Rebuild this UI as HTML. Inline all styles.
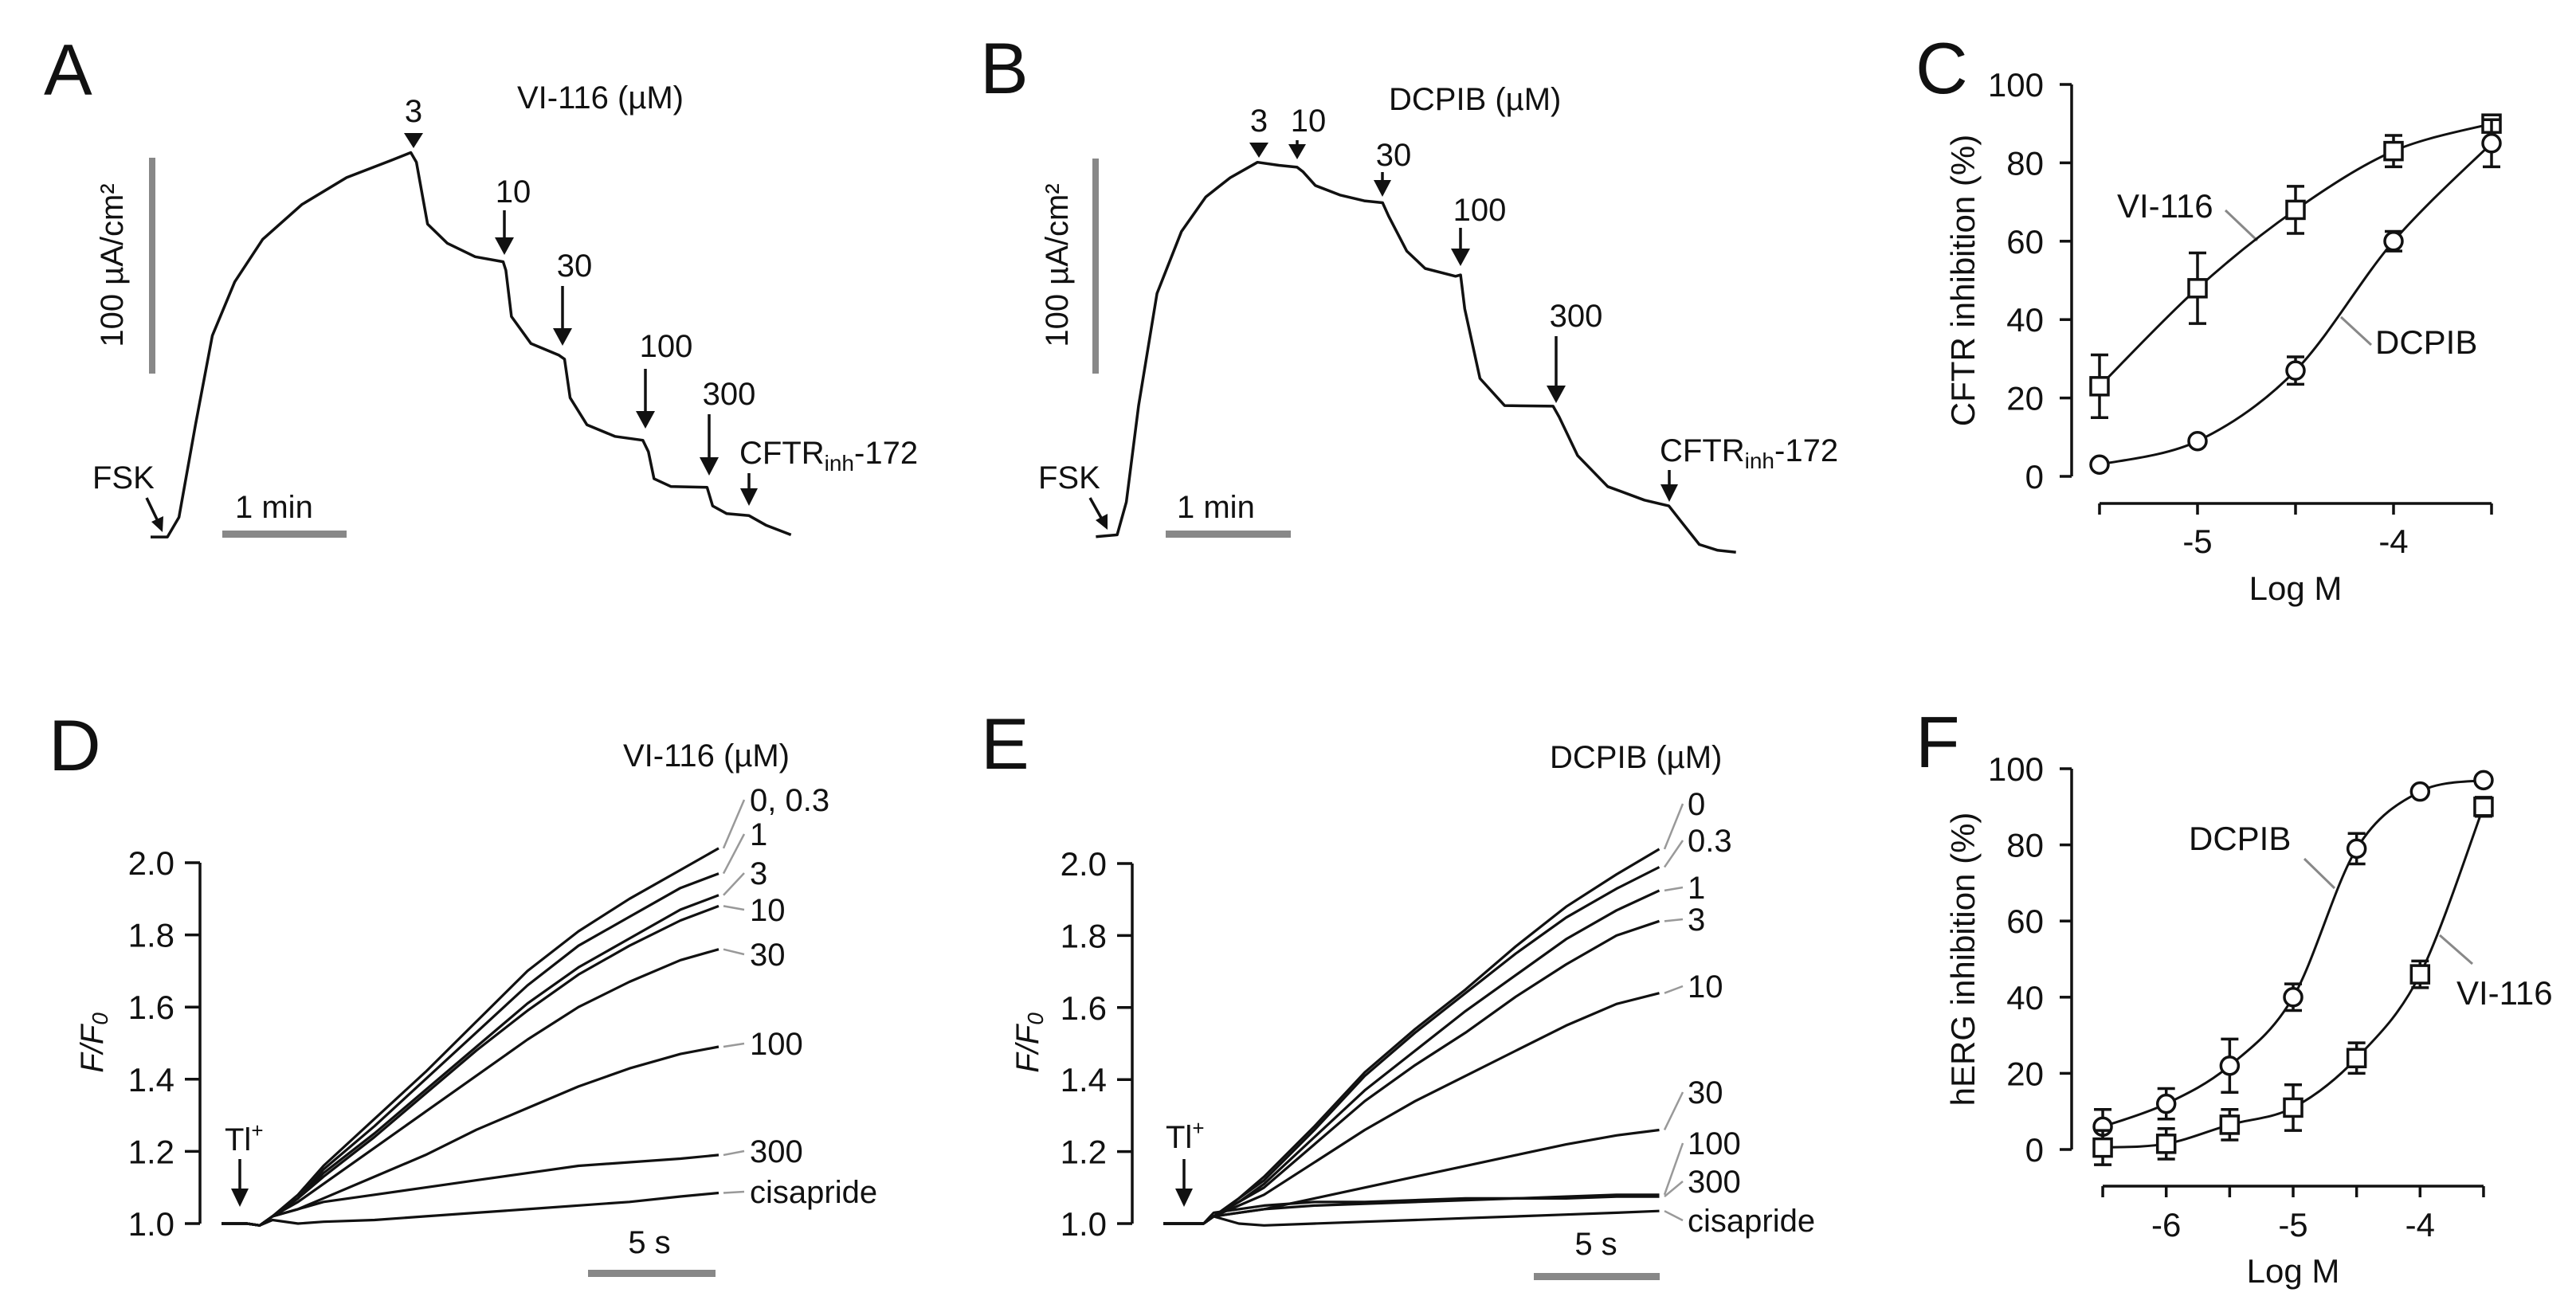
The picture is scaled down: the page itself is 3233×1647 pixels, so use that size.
<!DOCTYPE html>
<html><head><meta charset="utf-8">
<style>
html,body{margin:0;padding:0;background:#fff;}
svg{display:block;font-family:"Liberation Sans",Arial,sans-serif;}
text{fill:#111;}
</style></head>
<body>
<svg id="fig" width="3233" height="1647" viewBox="0 0 3233 1647" xmlns="http://www.w3.org/2000/svg">
<rect x="0" y="0" width="3233" height="1647" fill="#fff"/>

<g id="pA" font-size="40">
  <text x="55" y="119" font-size="91">A</text>
  <text x="649" y="136">VI-116 (µM)</text>
  <rect x="187" y="198" width="8" height="271" fill="#888"/>
  <text transform="translate(154,333) rotate(-90)" text-anchor="middle">100 µA/cm²</text>
  <rect x="279" y="666" width="156" height="9" fill="#888"/>
  <text x="295" y="650">1 min</text>
  <text x="116" y="613">FSK</text>
  <line x1="184" y1="625" x2="197" y2="652" stroke="#111" stroke-width="3.5"/>
  <polygon points="190,655 205,648 204,668" fill="#111"/>
  <text x="519" y="153" text-anchor="middle">3</text>
  <polygon points="507,167 531,167 519,186" fill="#111"/>
  <text x="644" y="254" text-anchor="middle">10</text>
  <line x1="633" y1="264" x2="633" y2="302" stroke="#111" stroke-width="3.5"/>
  <polygon points="621,298 645,298 633,320" fill="#111"/>
  <text x="721" y="347" text-anchor="middle">30</text>
  <line x1="706" y1="359" x2="706" y2="416" stroke="#111" stroke-width="3.5"/>
  <polygon points="694,412 718,412 706,434" fill="#111"/>
  <text x="836" y="448" text-anchor="middle">100</text>
  <line x1="810" y1="463" x2="810" y2="520" stroke="#111" stroke-width="3.5"/>
  <polygon points="798,516 822,516 810,538" fill="#111"/>
  <text x="915" y="508" text-anchor="middle">300</text>
  <line x1="890" y1="520" x2="890" y2="578" stroke="#111" stroke-width="3.5"/>
  <polygon points="878,574 902,574 890,597" fill="#111"/>
  <text x="928" y="582">CFTR<tspan font-size="28" dy="9">inh</tspan><tspan dy="-9">-172</tspan></text>
  <line x1="940" y1="594" x2="940" y2="617" stroke="#111" stroke-width="3.5"/>
  <polygon points="929,613 951,613 940,635" fill="#111"/>
</g>

<g id="pB" font-size="40">
  <text x="1230" y="117" font-size="91">B</text>
  <text x="1743" y="138">DCPIB (µM)</text>
  <rect x="1371" y="199" width="8" height="270" fill="#888"/>
  <text transform="translate(1340,333) rotate(-90)" text-anchor="middle">100 µA/cm²</text>
  <rect x="1463" y="666" width="157" height="9" fill="#888"/>
  <text x="1477" y="650">1 min</text>
  <text x="1303" y="613">FSK</text>
  <line x1="1368" y1="625" x2="1382" y2="650" stroke="#111" stroke-width="3.5"/>
  <polygon points="1375,653 1390,645 1390,665" fill="#111"/>
  <text x="1580" y="165" text-anchor="middle">3</text>
  <polygon points="1568,179 1592,179 1580,198" fill="#111"/>
  <text x="1642" y="165" text-anchor="middle">10</text>
  <line x1="1628" y1="176" x2="1628" y2="185" stroke="#111" stroke-width="3.5"/>
  <polygon points="1617,181 1639,181 1628,200" fill="#111"/>
  <text x="1749" y="208" text-anchor="middle">30</text>
  <line x1="1735" y1="216" x2="1735" y2="230" stroke="#111" stroke-width="3.5"/>
  <polygon points="1724,226 1746,226 1735,247" fill="#111"/>
  <text x="1857" y="277" text-anchor="middle">100</text>
  <line x1="1833" y1="286" x2="1833" y2="316" stroke="#111" stroke-width="3.5"/>
  <polygon points="1821,312 1845,312 1833,334" fill="#111"/>
  <text x="1978" y="410" text-anchor="middle">300</text>
  <line x1="1953" y1="422" x2="1953" y2="488" stroke="#111" stroke-width="3.5"/>
  <polygon points="1941,484 1965,484 1953,506" fill="#111"/>
  <text x="2083" y="579">CFTR<tspan font-size="28" dy="9">inh</tspan><tspan dy="-9">-172</tspan></text>
  <line x1="2095" y1="590" x2="2095" y2="612" stroke="#111" stroke-width="3.5"/>
  <polygon points="2084,608 2106,608 2095,630" fill="#111"/>
</g>

<g id="pC" font-size="42">
  <text x="2404" y="117" font-size="91">C</text>
  <text transform="translate(2478,352) rotate(-90)" text-anchor="middle">CFTR inhibition (%)</text>
  <text x="2881" y="753" text-anchor="middle">Log M</text>
  <text x="2657" y="273">VI-116</text>
  <line x1="2793" y1="264" x2="2833" y2="302" stroke="#888" stroke-width="3"/>
  <text x="2981" y="444">DCPIB</text>
  <line x1="2938" y1="398" x2="2976" y2="433" stroke="#888" stroke-width="3"/>
</g>

<g id="pD" font-size="40">
  <text x="61" y="967" font-size="91">D</text>
  <text x="782" y="962">VI-116 (µM)</text>
  <text transform="translate(129,1309) rotate(-90)" text-anchor="middle" font-style="italic">F/F<tspan font-size="28" dy="6">0</tspan></text>
  <text x="282" y="1444">Tl<tspan font-size="26" dy="-16">+</tspan></text>
  <line x1="301" y1="1455" x2="301" y2="1496" stroke="#111" stroke-width="3.5"/>
  <polygon points="290,1492 312,1492 301,1515" fill="#111"/>
  <rect x="738" y="1594" width="160" height="9" fill="#888"/>
  <text x="815" y="1573" text-anchor="middle">5 s</text>
</g>

<g id="pE" font-size="40">
  <text x="1231" y="965" font-size="91">E</text>
  <text x="1945" y="964">DCPIB (µM)</text>
  <text transform="translate(1303,1309) rotate(-90)" text-anchor="middle" font-style="italic">F/F<tspan font-size="28" dy="6">0</tspan></text>
  <text x="1463" y="1441">Tl<tspan font-size="26" dy="-16">+</tspan></text>
  <line x1="1486" y1="1455" x2="1486" y2="1496" stroke="#111" stroke-width="3.5"/>
  <polygon points="1475,1492 1497,1492 1486,1515" fill="#111"/>
  <rect x="1925" y="1598" width="158" height="9" fill="#888"/>
  <text x="2003" y="1575" text-anchor="middle">5 s</text>
</g>

<g id="pF" font-size="42">
  <text x="2404" y="963" font-size="91">F</text>
  <text transform="translate(2478,1204) rotate(-90)" text-anchor="middle">hERG inhibition (%)</text>
  <text x="2878" y="1610" text-anchor="middle">Log M</text>
  <text x="2747" y="1067">DCPIB</text>
  <line x1="2892" y1="1078" x2="2930" y2="1115" stroke="#888" stroke-width="3"/>
  <text x="3083" y="1261">VI-116</text>
  <line x1="3062" y1="1174" x2="3103" y2="1210" stroke="#888" stroke-width="3"/>
</g>
</svg>

<script>
const aTime = [0,8.1,13.7,21.7,29.8,40.6,54.1,73,94.6,116.2,125.6,128.3,133.7,143.2,156.7,170.2,171.5,174.2,183.6,197.1,199.8,202.5,210.6,224.1,237.6,240.3,243,251.1,268.6,271.3,278.1,288.9,297,309.1];
const aCurrent = [0.7,0.7,9.8,52.8,94,118.9,138.6,154.7,167.2,175.2,178.8,174.3,145.7,136.8,130.5,128.2,124.2,102.8,90.3,84.9,83.1,65.2,52.7,47.3,45.5,40.2,27.7,24.1,23.7,15.1,11.5,10.6,6.2,1.7];
const bTime = [0,10.2,14.6,20.5,29.3,41,52.7,64.4,77.5,87.7,96.5,99.4,105.3,117,128.7,137.5,140.4,149.1,157.9,172.5,174.9,176.9,184.2,196,219.3,222.2,231,245.5,263.1,274.8,280.6,289.4,298.2,307];
const bCurrent = [0,0.9,16.1,60.9,112.9,141.6,157.7,166.6,173.8,172.4,171.5,169.3,163,158.6,155.9,155,148.8,132.6,124.5,120.9,121.5,105.8,73.5,60.9,60.6,55.6,37.7,23.3,17,14.3,7.2,-3.6,-6.3,-7.2];

const cLogM = [-5.5,-5,-4.5,-4,-3.5];
const cVI116 = [23,48,68,83,90];
const cVI116Err = [8,9,6,4,0];
const cDCPIB = [3,9,27,60,85];
const cDCPIBErr = [0,0,3.5,2.5,6];
const cYTicks = [0,20,40,60,80,100];
const cXTicks = [-5.5,-5,-4.5,-4,-3.5];
const cXTickLabels = ["","-5","","-4",""];

const dTime = [0,1,1.5,2,3,4,6,8,10,12,14,16,18,19.5];
const dConc = ["0, 0.3","1","3","10","30","100","300","cisapride"];
const d0 = [1,1,0.995,1.02,1.08,1.16,1.29,1.42,1.56,1.70,1.81,1.90,1.98,2.04];
const d1 = [1,1,0.995,1.02,1.07,1.15,1.27,1.40,1.53,1.66,1.77,1.85,1.93,1.97];
const d3 = [1,1,0.995,1.02,1.07,1.14,1.25,1.37,1.49,1.61,1.71,1.79,1.87,1.91];
const d10 = [1,1,0.995,1.02,1.07,1.13,1.24,1.36,1.48,1.59,1.69,1.77,1.84,1.88];
const d30 = [1,1,0.995,1.02,1.06,1.11,1.21,1.31,1.41,1.51,1.60,1.67,1.73,1.76];
const d100 = [1,1,0.995,1.02,1.04,1.07,1.13,1.19,1.26,1.32,1.38,1.43,1.47,1.49];
const d300 = [1,1,0.995,1.02,1.04,1.06,1.08,1.10,1.12,1.14,1.16,1.17,1.18,1.19];
const dCis = [1,1,0.995,1.01,1.00,1.005,1.01,1.02,1.03,1.04,1.05,1.06,1.075,1.085];
const dYTicks = [1.0,1.2,1.4,1.6,1.8,2.0];

const eTime = [0,1,1.6,2,3,4,6,8,10,12,14,16,18,19.7];
const eConc = ["0","0.3","1","3","10","30","100","300","cisapride"];
const e0 = [1,1,1.0,1.02,1.07,1.13,1.27,1.42,1.54,1.65,1.77,1.88,1.97,2.04];
const e03 = [1,1,1.0,1.02,1.07,1.12,1.26,1.41,1.53,1.64,1.75,1.85,1.93,1.99];
const e1 = [1,1,1.0,1.02,1.06,1.11,1.24,1.37,1.48,1.59,1.69,1.79,1.87,1.925];
const e3 = [1,1,1.0,1.02,1.06,1.10,1.22,1.34,1.44,1.53,1.63,1.72,1.80,1.84];
const e10 = [1,1,1.0,1.02,1.05,1.08,1.17,1.26,1.34,1.41,1.48,1.55,1.61,1.64];
const e30 = [1,1,1.0,1.02,1.03,1.04,1.07,1.10,1.13,1.16,1.19,1.22,1.245,1.26];
const e100 = [1,1,1.0,1.03,1.04,1.05,1.06,1.06,1.065,1.07,1.07,1.075,1.08,1.08];
const e300 = [1,1,1.0,1.02,1.03,1.04,1.05,1.055,1.06,1.065,1.07,1.07,1.075,1.075];
const eCis = [1,1,1.0,1.02,1.0,0.995,1.0,1.005,1.01,1.015,1.02,1.025,1.03,1.035];
const eYTicks = [1.0,1.2,1.4,1.6,1.8,2.0];

const fLogM = [-6.5,-6,-5.5,-5,-4.5,-4,-3.5];
const fDCPIB = [6,12,22,40,79,94,97];
const fDCPIBErr = [4.5,4,7,3.5,4,0,0];
const fVI116 = [0.5,1.5,6.5,11,24,46,90];
const fVI116Err = [4.5,4,4,6,4,3.5,2.5];
const fYTicks = [0,20,40,60,80,100];
const fXTicks = [-6.5,-6,-5.5,-5,-4.5,-4,-3.5];
const fXTickLabels = ["","-6","","-5","","-4",""];

const NS = "http://www.w3.org/2000/svg";
const svg = document.getElementById('fig');
function mk(tag, attrs, parent){
  const el = document.createElementNS(NS, tag);
  for (const k in attrs) el.setAttribute(k, attrs[k]);
  (parent || svg).appendChild(el);
  return el;
}
function poly(xs, ys){ return xs.map((x,i)=>(i?'L':'M')+x.toFixed(1)+','+ys[i].toFixed(1)).join(''); }
function smooth(pts){
  let d = 'M'+pts[0][0]+','+pts[0][1];
  for (let i=0;i<pts.length-1;i++){
    const p0=pts[Math.max(i-1,0)], p1=pts[i], p2=pts[i+1], p3=pts[Math.min(i+2,pts.length-1)];
    const c1=[p1[0]+(p2[0]-p0[0])/6, p1[1]+(p2[1]-p0[1])/6];
    const c2=[p2[0]-(p3[0]-p1[0])/6, p2[1]-(p3[1]-p1[1])/6];
    d += 'C'+c1[0]+','+c1[1]+' '+c2[0]+','+c2[1]+' '+p2[0]+','+p2[1];
  }
  return d;
}

const xA = t => 189 + t*156/60, yA = v => 676 - v*2.71;
const xB = t => 1375.4 + t*157/60, yB = v => 673.8 - v*2.705;
const trA = mk('path', {d: poly(aTime.map(xA), aCurrent.map(yA)), fill:'none', stroke:'#111', 'stroke-width':3.5, 'stroke-linejoin':'round'});


const trB = mk('path', {d: poly(bTime.map(xB), bCurrent.map(yB)), fill:'none', stroke:'#111', 'stroke-width':3.5, 'stroke-linejoin':'round'});



function fluorAxis(axX, yOf, ticks, labelRight, prefix){
  const ax = mk('line', {x1:axX, y1:yOf(ticks[ticks.length-1]), x2:axX, y2:yOf(ticks[0]), stroke:'#111', 'stroke-width':3.5});
  
  
  ticks.forEach(v=>{
    const tk = mk('line', {x1:axX-19, y1:yOf(v), x2:axX, y2:yOf(v), stroke:'#111', 'stroke-width':3.5});
    
    
    const tl = mk('text', {x:labelRight, y:yOf(v)+15, 'text-anchor':'end', 'font-size':42});
    tl.textContent = v.toFixed(1);
    
    
  });
}
const xD = t => 278 + t*32, yD = v => 1536 - (v-1)*453;
const xE = t => 1460 + t*31.6, yE = v => 1536 - (v-1)*452;
fluorAxis(251, yD, dYTicks, 219, 'panel-d');
fluorAxis(1421, yE, eYTicks, 1389, 'panel-e');

const dSeries = [d0,d1,d3,d10,d30,d100,d300,dCis];
const dLabelY = [1018,1061,1110,1156,1212,1324,1459,1510];
dSeries.forEach((s,i)=>{
  const p = mk('path', {d: poly(dTime.map(xD), s.map(yD)), fill:'none', stroke:'#111', 'stroke-width':3.2, 'stroke-linejoin':'round'});
  
  
  const ey = yD(s[s.length-1]);
  const ly = dLabelY[i]-14;
  const ld = mk('line', {x1:908, y1:ey, x2:934, y2:ly, stroke:'#999', 'stroke-width':2.5});
  
  
  const t = mk('text', {x:941, y:dLabelY[i], 'font-size':40});
  t.textContent = dConc[i];
  
  
});

const eSeries = [e0,e03,e1,e3,e10,e30,e100,e300,eCis];
const eLabelY = [1023,1069,1128,1168,1252,1385,1449,1497,1546];
eSeries.forEach((s,i)=>{
  const p = mk('path', {d: poly(eTime.map(xE), s.map(yE)), fill:'none', stroke:'#111', 'stroke-width':3.2, 'stroke-linejoin':'round'});
  
  
  const ey = yE(s[s.length-1]);
  const ly = eLabelY[i]-14;
  const ld = mk('line', {x1:2089, y1:ey, x2:2112, y2:ly, stroke:'#999', 'stroke-width':2.5});
  
  
  const t = mk('text', {x:2118, y:eLabelY[i], 'font-size':40});
  t.textContent = eConc[i];
  
  
});

function drAxes(prefix, xOf, yOf, xTicks, xLabels, yTicks, axisY, labelBase){
  const ya = mk('line', {x1:2600, y1:yOf(yTicks[yTicks.length-1]), x2:2600, y2:yOf(yTicks[0]), stroke:'#111', 'stroke-width':3.5});
  
  
  yTicks.forEach(v=>{
    const tk = mk('line', {x1:2585, y1:yOf(v), x2:2600, y2:yOf(v), stroke:'#111', 'stroke-width':3.5});
    
    
    const tl = mk('text', {x:2565, y:yOf(v)+15, 'text-anchor':'end', 'font-size':42});
    tl.textContent = String(v);
    
    
  });
  const xa = mk('line', {x1:xOf(xTicks[0]), y1:axisY, x2:xOf(xTicks[xTicks.length-1]), y2:axisY, stroke:'#111', 'stroke-width':3.5});
  
  
  xTicks.forEach((v,i)=>{
    const tk = mk('line', {x1:xOf(v), y1:axisY, x2:xOf(v), y2:axisY+14, stroke:'#111', 'stroke-width':3.5});
    
    
    if (xLabels[i]){
      const tl = mk('text', {x:xOf(v), y:labelBase, 'text-anchor':'middle', 'font-size':42});
      tl.textContent = xLabels[i];
      
      
    }
  });
}
function drSeries(prefix, name, xs, ys, errs, xOf, yOf, marker){
  const pts = xs.map((x,i)=>[xOf(x), yOf(ys[i])]);
  const c = mk('path', {d: smooth(pts), fill:'none', stroke:'#111', 'stroke-width':3});
  
  
  xs.forEach((x,i)=>{
    const px = xOf(x), py = yOf(ys[i]);
    if (errs[i] > 0){
      const y1 = yOf(ys[i]+errs[i]), y2 = yOf(ys[i]-errs[i]);
      const eb = mk('path', {d:'M'+px+','+y1+'V'+y2+'M'+(px-11)+','+y1+'H'+(px+11)+'M'+(px-11)+','+y2+'H'+(px+11), stroke:'#111', 'stroke-width':3.5, fill:'none'});
      
      
    }
    let m;
    if (marker === 'square') m = mk('rect', {x:px-11, y:py-11, width:22, height:22, fill:'#fff', stroke:'#111', 'stroke-width':3.5});
    else m = mk('circle', {cx:px, cy:py, r:11, fill:'#fff', stroke:'#111', 'stroke-width':3.5});
    
    
  });
}
const xC = v => 2758 + (v+5)*246, yC = v => 598 - v*4.92;
drAxes('panel-c', xC, yC, cXTicks, cXTickLabels, cYTicks, 632, 694);
drSeries('panel-c', 'vi116', cLogM, cVI116, cVI116Err, xC, yC, 'square');
drSeries('panel-c', 'dcpib', cLogM, cDCPIB, cDCPIBErr, xC, yC, 'circle');

const xF = v => 2878 + (v+5)*159.3, yF = v => 1443 - v*4.78;
drAxes('panel-f', xF, yF, fXTicks, fXTickLabels, fYTicks, 1489, 1552);
drSeries('panel-f', 'dcpib', fLogM, fDCPIB, fDCPIBErr, xF, yF, 'circle');
drSeries('panel-f', 'vi116', fLogM, fVI116, fVI116Err, xF, yF, 'square');
</script>
</body></html>
